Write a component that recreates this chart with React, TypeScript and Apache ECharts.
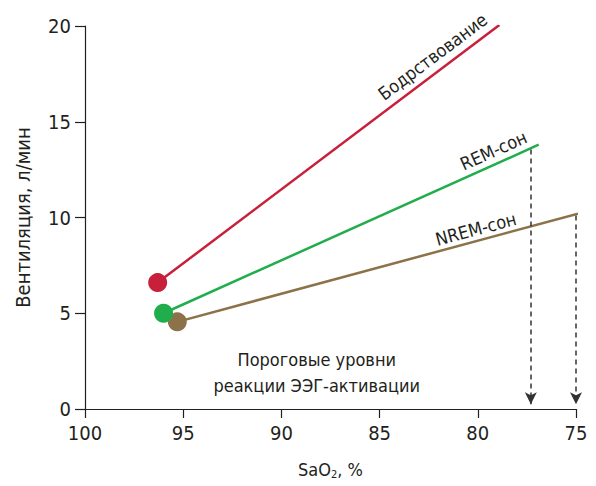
import React, { useEffect, useRef } from "react";
import * as echarts from "echarts";

const seriesNames = ["Бодрствование", "REM-сон", "NREM-сон"];
const seriesColors = ["#c81f3b", "#20ad4c", "#8c7248"];
const startX = [96.3, 96.0, 95.3];
const startY = [6.6, 5.0, 4.55];
const endX = [78.9, 76.9, 74.9];
const endY = [20.05, 13.8, 10.2];
const labelX = [82.3, 79.2, 80.1];
const labelY = [18.4, 13.5, 9.4];
const labelAngle = [37, 24, 15];
const arrowX = [77.3, 75];
const arrowTop = [13.55, 10.1];
const arrowBottom = [0.25, 0.25];
const noteLines = ["Пороговые уровни", "реакции ЭЭГ-активации"];
const noteX = 88.2;
const noteY = 1.9;

const FONT = "'Liberation Sans Narrow', 'DejaVu Sans Condensed', 'Roboto', sans-serif";
const TEXT = "#231f20";

export default function App() {
  const ref = useRef<HTMLDivElement>(null);
  useEffect(() => {
    if (!ref.current) return;
    const chart = echarts.init(ref.current, undefined, { renderer: "svg" });
    const series: any[] = seriesNames.map((name, i) => ({
      name,
      type: "line",
      data: [
        { value: [startX[i], startY[i]], symbol: "circle", symbolSize: 19 },
        { value: [endX[i], endY[i]], symbol: "none" },
      ],
      lineStyle: { color: seriesColors[i], width: 2.5 },
      itemStyle: { color: seriesColors[i] },
      z: 3 - i,
    }));
    series.push({
      type: "line",
      data: [],
      markLine: {
        silent: true,
        symbol: ["none", "arrow"],
        symbolSize: [9, 12],
        label: { show: false },
        lineStyle: { color: "#333", type: [5, 4], width: 1.5 },
        data: arrowX.map((x, i) => [
          { coord: [x, arrowTop[i]] },
          { coord: [x, arrowBottom[i]] },
        ]),
      },
    });
    chart.setOption({
      animation: false,
      textStyle: { fontFamily: FONT },
      grid: { left: 85, right: 20, top: 26, bottom: 77 },
      xAxis: {
        type: "value",
        inverse: true,
        min: 75,
        max: 100,
        interval: 5,
        name: "{a|SaO}{s|2}{a|, %}",
        nameLocation: "middle",
        nameGap: 50,
        nameTextStyle: {
          rich: {
            a: { fontSize: 18, color: TEXT, fontFamily: FONT },
            s: { fontSize: 11, color: TEXT, fontFamily: FONT, padding: [10, 0, 0, 0] },
          },
        },
        axisLine: { lineStyle: { color: TEXT, width: 1.2 } },
        axisTick: { length: 9, lineStyle: { color: TEXT, width: 1.2 } },
        axisLabel: { color: TEXT, fontSize: 20, margin: 14 },
        splitLine: { show: false },
      },
      yAxis: {
        type: "value",
        min: 0,
        max: 20,
        interval: 5,
        name: "Вентиляция, л/мин",
        nameLocation: "middle",
        nameGap: 52,
        nameTextStyle: { color: TEXT, fontSize: 20, fontFamily: FONT },
        axisLine: { show: true, lineStyle: { color: TEXT, width: 1.2 } },
        axisTick: { show: true, length: 10, lineStyle: { color: TEXT, width: 1.2 } },
        axisLabel: { color: TEXT, fontSize: 20, margin: 14 },
        splitLine: { show: false },
      },
      series,
    });
    const graphics: any[] = [];
    seriesNames.forEach((name, i) => {
      const p = chart.convertToPixel({ gridIndex: 0 }, [labelX[i], labelY[i]]);
      graphics.push({
        type: "text",
        x: p[0],
        y: p[1],
        rotation: (labelAngle[i] * Math.PI) / 180,
        style: {
          text: name,
          fill: TEXT,
          font: `18px ${FONT}`,
          align: "center",
          verticalAlign: "middle",
        },
      });
    });
    const np = chart.convertToPixel({ gridIndex: 0 }, [noteX, noteY]);
    graphics.push({
      type: "text",
      x: np[0],
      y: np[1],
      style: {
        text: noteLines.join("\n"),
        fill: TEXT,
        font: `18px ${FONT}`,
        lineHeight: 26,
        align: "center",
        verticalAlign: "middle",
      },
    });
    chart.setOption({ graphic: graphics });
    return () => chart.dispose();
  }, []);
  return <div ref={ref} style={{ width: 596, height: 486, margin: -8 }} />;
}
